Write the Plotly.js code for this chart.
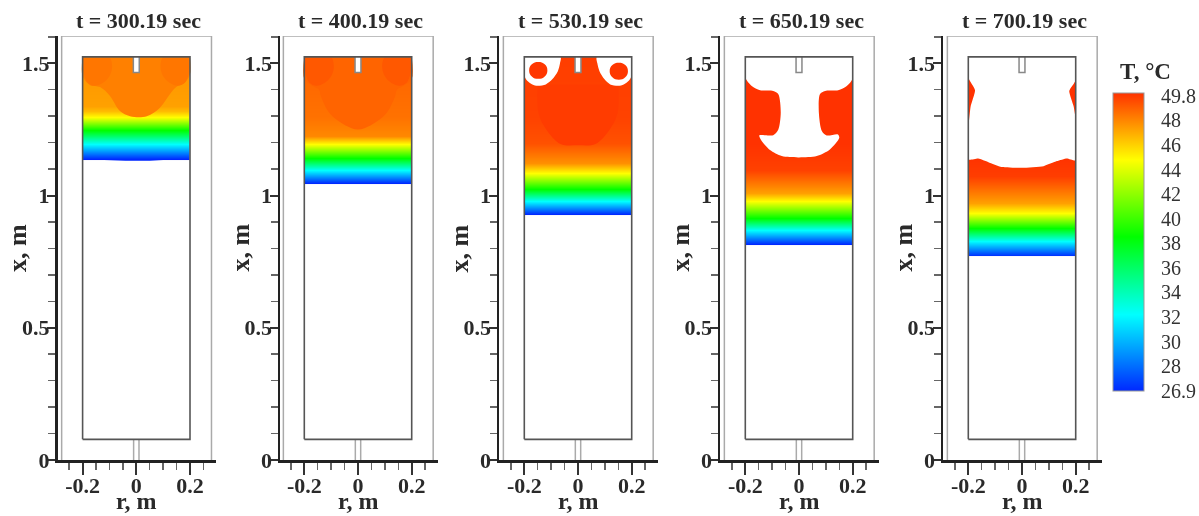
<!DOCTYPE html>
<html><head><meta charset="utf-8">
<script src="https://cdn.plot.ly/plotly-3.0.1.min.js"></script>
<style>html,body{margin:0;padding:0;background:#fff;overflow:hidden}#c{width:1199px;height:516px;filter:blur(0.5px)}</style>
</head><body><div id="c"></div>
<script>
// ---- data (r and x in metres, T in deg C) ----
const panelTitles = ["t = 300.19 sec","t = 400.19 sec","t = 530.19 sec","t = 650.19 sec","t = 700.19 sec"];

const heights1 = [1.136,1.137,1.193,1.246,1.295,1.318,1.337,1.522,1.523];
const temps1   = [26.9,26.9,32.76,38.74,44.65,46.3,47.0,47.4,47.4];
const heights2 = [1.045,1.046,1.098,1.143,1.193,1.225,1.30,1.522,1.523];
const temps2   = [26.9,26.9,32.76,38.74,44.65,47.6,48.2,48.6,48.6];
const heights3 = [0.928,0.929,0.978,1.023,1.086,1.124,1.20,1.30,1.522,1.523];
const temps3   = [26.9,26.9,32.76,38.74,44.65,47.4,49.0,49.4,49.5,49.5];
const heights4 = [0.814,0.815,0.871,0.915,0.978,1.01,1.098,1.20,1.522,1.523];
const temps4   = [26.9,26.9,32.76,38.74,44.65,47.0,49.4,49.8,49.8,49.8];
const heights5 = [0.770,0.771,0.827,0.877,0.934,0.973,1.073,1.15,1.522,1.523];
const temps5   = [26.9,26.9,32.76,38.74,44.65,47.0,49.5,49.8,49.8,49.8];

const dipR = [-0.2,-0.1,-0.04,0.05,0.1,0.2];
const dipX = [1.137,1.133,1.131,1.131,1.134,1.137];

const dome1R = [-0.2,-0.2,-0.172,-0.135,-0.098,-0.061,-0.023,0.039,0.088,0.125,0.15,0.181,0.2,0.2];
const dome1X = [1.523,1.452,1.417,1.41,1.376,1.319,1.30,1.30,1.332,1.383,1.411,1.427,1.458,1.523];
const dome2R = [-0.2,-0.2,-0.17,-0.145,-0.138,-0.105,-0.048,0,0.048,0.105,0.138,0.145,0.17,0.2,0.2];
const dome2X = [1.523,1.44,1.415,1.40,1.374,1.31,1.266,1.25,1.266,1.31,1.374,1.40,1.415,1.44,1.523];
const dome3R = [-0.15,-0.147,-0.117,-0.065,0,0.065,0.117,0.147,0.15];
const dome3X = [1.42,1.311,1.248,1.195,1.19,1.195,1.248,1.311,1.42];

const lobeLeftR = [-0.2,-0.195,-0.18,-0.155,-0.125,-0.098,-0.09,-0.1,-0.13];
const lobeLeftX = [1.523,1.46,1.425,1.415,1.425,1.455,1.49,1.523,1.523];
const lobeRightR = [0.2,0.195,0.18,0.155,0.125,0.098,0.09,0.1,0.13];
const lobeRightX = [1.523,1.46,1.425,1.415,1.425,1.455,1.49,1.523,1.523];

const void3LeftR = [-0.2,-0.2,-0.19,-0.17,-0.15,-0.12,-0.095,-0.075,-0.067,-0.065,-0.13];
const void3LeftX = [1.524,1.455,1.435,1.42,1.415,1.42,1.44,1.47,1.50,1.524,1.524];
const void3RightR = [0.2,0.2,0.19,0.17,0.15,0.12,0.098,0.08,0.072,0.07,0.13];
const void3RightX = [1.524,1.455,1.435,1.42,1.415,1.42,1.44,1.47,1.50,1.524,1.524];
const blob3LeftR = [-0.182,-0.172,-0.148,-0.124,-0.114,-0.124,-0.148,-0.172,-0.182];
const blob3LeftX = [1.473,1.45,1.441,1.45,1.473,1.496,1.505,1.496,1.473];
const blob3RightR = [0.118,0.128,0.152,0.176,0.186,0.176,0.152,0.128,0.118];
const blob3RightX = [1.47,1.447,1.438,1.447,1.47,1.493,1.502,1.493,1.47];

const void4R = [-0.2,-0.2,-0.176,-0.145,-0.096,-0.077,-0.068,-0.077,-0.096,-0.127,-0.148,-0.139,-0.108,-0.064,-0.003,0.066,0.115,0.15,0.145,0.103,0.085,0.074,0.078,0.097,0.146,0.178,0.2,0.2,0];
const void4X = [1.524,1.446,1.414,1.398,1.395,1.383,1.313,1.25,1.228,1.228,1.227,1.206,1.172,1.149,1.144,1.149,1.174,1.218,1.231,1.227,1.244,1.313,1.383,1.395,1.398,1.414,1.442,1.524,1.524];

const void5R = [-0.2,-0.2,-0.175,-0.191,-0.2,-0.2,-0.163,-0.125,-0.076,0,0.08,0.13,0.167,0.2,0.2,0.192,0.176,0.2,0.2,0];
const void5X = [1.524,1.446,1.398,1.338,1.25,1.136,1.14,1.126,1.108,1.105,1.111,1.13,1.14,1.133,1.288,1.338,1.395,1.436,1.524,1.524];

const vesselR = [-0.2,-0.2,0.2,0.2,-0.2];
const vesselX = [0.078,1.524,1.524,0.078,0.078];
const casingR = [-0.278,-0.278,0.28,0.28];
const casingX = [0,1.603,1.603,0];
const topPipeR = [-0.011,-0.011,0.011,0.011];
const topPipeX = [1.524,1.465,1.465,1.524];
const bottomPipeR = [-0.01,-0.01,null,0.01,0.01];
const bottomPipeX = [0,0.078,null,0,0.078];

const xTickVals = [-0.2,0,0.2];
const xTickText = ["-0.2","0","0.2"];
const xMinorVals = [-0.3,-0.25,-0.15,-0.1,-0.05,0.05,0.1,0.15,0.25,0.3];
const yTickVals = [0,0.5,1,1.5];
const yTickText = ["0","0.5","1","1.5"];
const yMinorVals = [0.1,0.2,0.3,0.4,0.6,0.7,0.8,0.9,1.1,1.2,1.3,1.4,1.6];

const legendLabels = ["49.8","48","46","44","42","40","38","36","34","32","30","28","26.9"];
const legendVals = [49.6,47.71,45.82,43.92,42.03,40.14,38.25,36.36,34.47,32.57,30.68,28.79,26.9];

// ---- layout constants ----
const W = 1199, H = 516;
const axisLeftPx = [57.5,280,499,720,943];
const centerPx = [136.3,358,578,799,1022];
const rPxPerM = 268.5;
const rightSpanPx = 80;
const yTopPx = 36, yBottomPx = 460;
const yTitlePx = [18,240.5,459.5,680.5,903.5];
const SERIF = '"Liberation Serif","Times New Roman",serif';
const TXT = '#2a2a2a';
const scale = [[0,'rgb(0,40,255)'],[0.256,'rgb(0,255,255)'],[0.517,'rgb(0,255,0)'],[0.775,'rgb(255,255,0)'],[1,'rgb(255,50,0)']];

const traces = [], annotations = [];
const layout = {width:W,height:H,margin:{l:0,r:0,t:0,b:0},paper_bgcolor:'#fff',plot_bgcolor:'#fff',showlegend:false,annotations};

function poly(ax,r,x,fill,line,lw,smooth){
  const ln = line?{color:line,width:lw||1}:{width:0,color:fill};
  if(smooth){ln.shape='spline';ln.smoothing=smooth;}
  traces.push({type:'scatter',mode:'lines',x:r,y:x,xaxis:ax.x,yaxis:ax.y,hoverinfo:'skip',
    fill:fill?'toself':'none',fillcolor:fill||undefined,line:ln,connectgaps:false,cliponaxis:true});
}

const panels = [
 {h:heights1,t:temps1,lobes:[[dome1R,dome1X,'rgb(255,128,0)'],[lobeLeftR,lobeLeftX,'rgb(255,118,0)'],[lobeRightR,lobeRightX,'rgb(255,118,0)']],dip:true},
 {h:heights2,t:temps2,lobes:[[dome2R,dome2X,'rgb(255,100,0)'],[lobeLeftR,lobeLeftX,'rgb(255,88,0)'],[lobeRightR,lobeRightX,'rgb(255,88,0)']]},
 {h:heights3,t:temps3,lobes:[[dome3R,dome3X,'rgb(255,60,0)']],voids:[[void3LeftR,void3LeftX],[void3RightR,void3RightX]],
  blobs:[[blob3LeftR,blob3LeftX],[blob3RightR,blob3RightX]]},
 {h:heights4,t:temps4,voids:[[void4R,void4X]]},
 {h:heights5,t:temps5,voids:[[void5R,void5X]],sm:0.5}
];

panels.forEach((p,i)=>{
  const n = i+1, ax = {x:n===1?'x':'x'+n, y:n===1?'y':'y'+n};
  const left = axisLeftPx[i], c = centerPx[i];
  const xa = {
    domain:[left/W,(c+rightSpanPx)/W], range:[(left-c)/rPxPerM,rightSpanPx/rPxPerM], anchor:ax.y,
    showgrid:false,zeroline:false,showline:true,linecolor:'#222',linewidth:2.5,
    tickmode:'array',tickvals:xTickVals,ticktext:xTickText,ticks:'outside',ticklen:12,tickwidth:2,tickcolor:'#333',
    minor:{tickmode:'array',tickvals:xMinorVals,ticks:'outside',ticklen:7,tickwidth:1.5,tickcolor:'#666',showgrid:false},
    tickfont:{family:SERIF,size:22,color:TXT,weight:'bold'},tickangle:0,ticklabelstandoff:-8
  };
  const ya = {
    domain:[(H-yBottomPx)/H,(H-yTopPx)/H], range:[0,(yBottomPx-yTopPx)/264.5], anchor:ax.x,
    showgrid:false,zeroline:false,showline:true,linecolor:'#222',linewidth:2.5,
    tickmode:'array',tickvals:yTickVals,ticktext:yTickText,ticks:'outside',ticklen:8,tickwidth:2,tickcolor:'#333',
    minor:{tickmode:'array',tickvals:yMinorVals,ticks:'outside',ticklen:7,tickwidth:1.5,tickcolor:'#666',showgrid:false},
    tickfont:{family:SERIF,size:22,color:TXT,weight:'bold'},ticklabelstandoff:-7
  };
  layout[n===1?'xaxis':'xaxis'+n] = xa;
  layout[n===1?'yaxis':'yaxis'+n] = ya;

  const hm = {type:'heatmap',x:[-0.1,0.1],y:p.h,z:p.t.map(v=>[v,v]),xaxis:ax.x,yaxis:ax.y,zsmooth:'best',
    colorscale:scale,zmin:26.9,zmax:49.8,hoverinfo:'skip',showscale:i===0};
  if(i===0) hm.colorbar = {x:1112.7/W,xanchor:'left',xpad:0,thickness:31,thicknessmode:'pixels',
    len:298,lenmode:'pixels',y:(H-93)/H,yanchor:'top',ypad:0,outlinewidth:1,outlinecolor:'#999',borderwidth:0,
    tickmode:'array',tickvals:legendVals,ticktext:legendLabels,ticks:'outside',ticklen:13,tickcolor:'rgba(0,0,0,0)',
    tickfont:{family:SERIF,size:20,color:'#333'}};
  traces.push(hm);
  if(p.dip) poly(ax,dipR,dipX,'rgb(0,40,255)');
  (p.lobes||[]).forEach(l=>poly(ax,l[0],l[1],l[2],null,0,1));
  (p.voids||[]).forEach(v=>poly(ax,v[0],v[1],'#ffffff',null,0,p.sm||0.8));
  (p.blobs||[]).forEach(b=>poly(ax,b[0],b[1],'rgb(255,55,0)',null,0,1.3));
  poly(ax,casingR,casingX,null,'#aaaaaa',1.5);
  poly(ax,bottomPipeR,bottomPipeX,null,'#aaaaaa',1.5);
  poly(ax,topPipeR,topPipeX,'#ffffff','#888888',1.5);
  poly(ax,vesselR,vesselX,null,'#555555',1.6);

  annotations.push({xref:'paper',yref:'paper',x:(c+2)/W,y:(H-21)/H,yanchor:'middle',xanchor:'center',showarrow:false,
    text:'<b>'+panelTitles[i]+'</b>',font:{family:SERIF,size:22,color:TXT}});
  annotations.push({xref:'paper',yref:'paper',x:c/W,y:0,yanchor:'bottom',xanchor:'center',showarrow:false,
    text:'<b>r, m</b>',font:{family:SERIF,size:24,color:TXT}});
  annotations.push({xref:'paper',yref:'paper',x:yTitlePx[i]/W,y:(H-248)/H,yanchor:'middle',xanchor:'center',showarrow:false,textangle:-90,
    text:'<b>x, m</b>',font:{family:SERIF,size:26,color:TXT}});
});
annotations.push({xref:'paper',yref:'paper',x:1145/W,y:(H-71)/H,yanchor:'middle',xanchor:'center',showarrow:false,
  text:'<b>T, °C</b>',font:{family:SERIF,size:23,color:TXT}});

Plotly.newPlot('c',traces,layout,{displayModeBar:false,staticPlot:true});
</script></body></html>
